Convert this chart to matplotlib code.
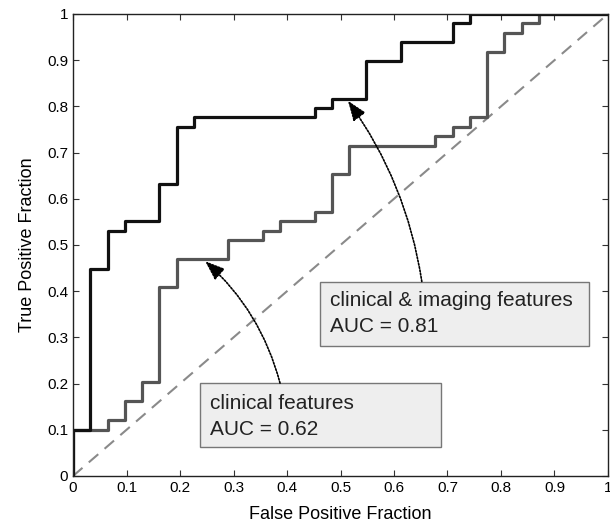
import matplotlib
matplotlib.use('Agg')
import matplotlib.pyplot as plt
from matplotlib.patches import Rectangle

plt.rcParams['font.family'] = ['Liberation Sans', 'DejaVu Sans']

# ROC curve points (false positive fraction, true positive fraction)
fpr_both = [0, 0, 0.032, 0.065, 0.097, 0.161, 0.194, 0.226, 0.452, 0.484,
            0.548, 0.613, 0.710, 0.742, 1]
tpr_both = [0, 0.1, 0.449, 0.531, 0.551, 0.633, 0.755, 0.776, 0.796, 0.816,
            0.898, 0.939, 0.980, 1, 1]

fpr_clin = [0, 0, 0.065, 0.097, 0.129, 0.161, 0.194, 0.290, 0.355, 0.387,
            0.452, 0.484, 0.516, 0.677, 0.710, 0.742, 0.774, 0.806, 0.839,
            0.871, 1]
tpr_clin = [0, 0.1, 0.122, 0.163, 0.204, 0.408, 0.469, 0.510, 0.531, 0.551,
            0.571, 0.653, 0.714, 0.735, 0.755, 0.776, 0.918, 0.959, 0.980,
            1, 1]

ticks = [0, 0.1, 0.2, 0.3, 0.4, 0.5, 0.6, 0.7, 0.8, 0.9, 1]
tick_labels = ['0', '0.1', '0.2', '0.3', '0.4', '0.5', '0.6', '0.7', '0.8', '0.9', '1']

label_both = 'clinical & imaging features\nAUC = 0.81'
label_clin = 'clinical features\nAUC = 0.62'

fig = plt.figure(figsize=(6.1, 5.3), dpi=100)
ax = fig.add_axes([0.1197, 0.1019, 0.877, 0.8717])

ax.plot([0, 1], [0, 1], color='#8a8a8a', lw=1.5, dashes=(6, 4))
ax.plot(fpr_clin, tpr_clin, drawstyle='steps-post', color='#555555', lw=2.3)
ax.plot(fpr_both, tpr_both, drawstyle='steps-post', color='#111111', lw=2.3)

ax.set_xlim(0, 1)
ax.set_ylim(0, 1)
ax.set_xticks(ticks)
ax.set_xticklabels(tick_labels)
ax.set_yticks(ticks)
ax.set_yticklabels(tick_labels)
ax.tick_params(direction='in', top=True, right=True, length=4, labelsize=11,
               color='#333333')
for s in ax.spines.values():
    s.set_color('#222222')
    s.set_linewidth(1.0)

ax.set_xlabel('False Positive Fraction', fontsize=13, labelpad=8)
ax.set_ylabel('True Positive Fraction', fontsize=13, labelpad=8)

# annotation boxes
ax.add_patch(Rectangle((0.462, 0.282), 0.502, 0.1386, fc='#eeeeee',
                       ec='#777777', lw=1, zorder=3))
ax.add_patch(Rectangle((0.237, 0.062), 0.451, 0.1386, fc='#eeeeee',
                       ec='#777777', lw=1, zorder=3))
ax.text(0.48, 0.351, label_both, ha='left', va='center', fontsize=15,
        color='#222222', linespacing=1.45, zorder=4)
ax.text(0.256, 0.128, label_clin, ha='left', va='center', fontsize=15,
        color='#222222', linespacing=1.45, zorder=4)

arrow = dict(arrowstyle='-|>,head_length=0.8,head_width=0.3', color='black',
             linestyle=(0, (1, 1)), lw=1.2, shrinkA=0, shrinkB=0)
ax.annotate('', xy=(0.514, 0.812), xytext=(0.652, 0.421), fontsize=15,
            arrowprops=dict(arrow, connectionstyle='arc3,rad=0.12'))
ax.annotate('', xy=(0.247, 0.465), xytext=(0.387, 0.201), fontsize=15,
            arrowprops=dict(arrow, connectionstyle='arc3,rad=0.15'))

fig.savefig('out.png', dpi=100)
